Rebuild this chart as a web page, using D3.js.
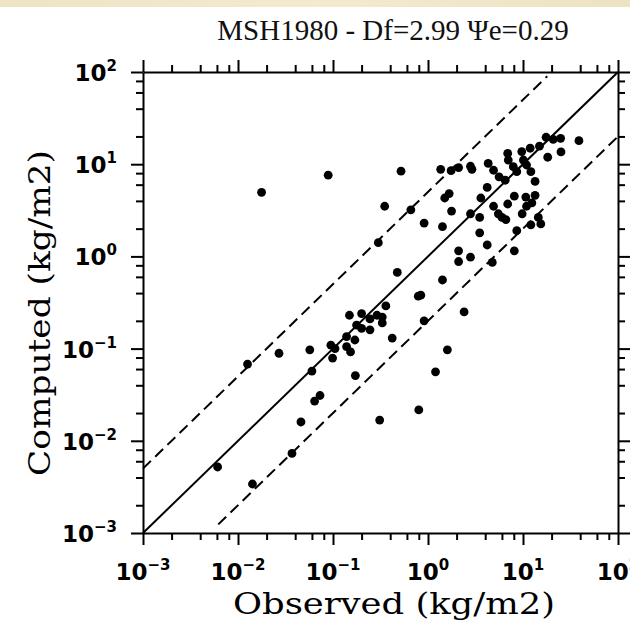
<!DOCTYPE html>
<html>
<head>
<meta charset="utf-8">
<script src="https://cdn.jsdelivr.net/npm/d3@7"></script>
<style>
  body { margin: 0; background: #fff; }
  svg { display: block; }
</style>
</head>
<body>
<div id="chart"></div>
<script>
// observed / computed loads (kg/m2)
const observed = [
  0.0177, 0.089, 0.35, 0.30, 0.36, 0.52, 0.66, 0.91, 1.42, 1.36,
  1.75, 2.1, 1.5, 1.67, 1.77, 2.8, 2.9, 4.3, 4.9, 5.6,
  6.5, 6.9, 7.0, 7.9, 8.6, 9.7, 10.1, 10.9, 11.9, 12.1,
  13.4, 14.9, 17.5, 18.2, 20.8, 24.9, 25.1, 38.8, 4.2, 3.6,
  4.9, 2.8, 3.5, 5.5, 6.0, 6.6, 6.9, 8.1, 9.8, 10.7,
  10.9, 12.4, 13.4, 14.5, 15.4, 12.1, 8.6, 3.5, 4.2, 2.1,
  2.1, 2.8, 4.75, 8.1, 1.42, 0.475, 0.79, 0.84, 2.4, 0.33,
  0.33, 0.91, 0.42, 1.6, 1.2, 0.80, 0.31, 0.149, 0.20, 0.245,
  0.29, 0.177, 0.20, 0.245, 0.139, 0.17, 0.095, 0.105, 0.099, 0.139,
  0.153, 0.057, 0.027, 0.0126, 0.060, 0.172, 0.073, 0.064, 0.046, 0.037,
  0.0061, 0.0142
];
const computed = [
  4.95, 7.6, 3.5, 1.41, 0.29, 8.4, 3.2, 2.3, 2.1, 8.8,
  8.5, 9.2, 4.3, 4.8, 3.1, 9.5, 8.8, 10.2, 8.6, 7.3,
  6.7, 13.1, 11.1, 9.4, 8.3, 13.7, 11.1, 9.8, 14.9, 8.3,
  6.5, 15.7, 19.6, 11.9, 18.6, 19.1, 13.6, 18.0, 5.6, 4.3,
  3.5, 2.9, 2.65, 2.9, 2.65, 2.5, 3.7, 4.5, 2.9, 4.4,
  3.5, 3.8, 4.6, 2.65, 2.25, 2.2, 1.9, 1.8, 1.33, 1.15,
  0.88, 0.98, 0.86, 1.15, 0.555, 0.67, 0.37, 0.38, 0.25, 0.22,
  0.19, 0.20, 0.13, 0.097, 0.056, 0.0216, 0.0168, 0.23, 0.24, 0.21,
  0.23, 0.18, 0.166, 0.16, 0.135, 0.124, 0.109, 0.10, 0.079, 0.105,
  0.092, 0.097, 0.089, 0.068, 0.057, 0.051, 0.031, 0.027, 0.016, 0.0073,
  0.0052, 0.0034
];

// reference lines: 1:1 and factor-of-5 bands
const lineOneToOne = [[1e-3, 1e-3], [100, 100]];
const lineUpper = [[1e-3, 5e-3], [18, 90]];
const lineLower = [[0.0062, 0.00124], [100, 20]];

const decades = [1e-3, 1e-2, 1e-1, 1e0, 1e1, 1e2];
const decadeExp = ["−3", "−2", "−1", "0", "1", "2"];
const minorMult = [2, 4, 6, 8];

const titleText = "MSH1980 - Df=2.99 Ψe=0.29";
const xTitle = "Observed (kg/m2)";
const yTitle = "Computed (kg/m2)";

const W = 630, H = 623;
const plot = { left: 143, right: 618, top: 72, bottom: 533 };

const svg = d3.select('#chart').append('svg')
  .attr('width', W)
  .attr('height', H);

// beige strip along the top edge
const grad = svg.append('defs').append('linearGradient')
  .attr('id', 'band').attr('x1', 0).attr('x2', 1);
grad.append('stop').attr('offset', '0%').attr('stop-color', '#efe3c4');
grad.append('stop').attr('offset', '50%').attr('stop-color', '#f4ead0');
grad.append('stop').attr('offset', '100%').attr('stop-color', '#eee2c2');
svg.append('rect').attr('x', 0).attr('y', 0).attr('width', W).attr('height', 7)
  .attr('fill', 'url(#band)');

const x = d3.scaleLog().domain([1e-3, 1e2]).range([plot.left, plot.right]);
const y = d3.scaleLog().domain([1e-3, 1e2]).range([plot.bottom, plot.top]);

const allTicks = [];
decades.forEach((d, i) => {
  allTicks.push(d);
  if (i < decades.length - 1) minorMult.forEach(m => allTicks.push(d * m));
});
const isMajor = v => decades.some(d => Math.abs(d - v) / d < 1e-9);

function styleAxis(g, dir) {
  g.select('.domain').attr('stroke', '#000').attr('stroke-width', 2);
  g.selectAll('.tick line')
    .attr('stroke', '#000')
    .attr('stroke-width', 2)
    .each(function (d) {
      const len = isMajor(d) ? 12 : 7;
      const el = d3.select(this);
      if (dir === 'bottom') el.attr('y2', len);
      if (dir === 'top') el.attr('y2', -len);
      if (dir === 'left') el.attr('x2', -len);
      if (dir === 'right') el.attr('x2', len);
    });
  g.selectAll('.tick text').remove();
}

svg.append('g').attr('transform', `translate(0,${plot.bottom})`)
  .call(d3.axisBottom(x).tickValues(allTicks).tickSizeOuter(0))
  .call(g => styleAxis(g, 'bottom'));
svg.append('g').attr('transform', `translate(0,${plot.top})`)
  .call(d3.axisTop(x).tickValues(allTicks).tickSizeOuter(0))
  .call(g => styleAxis(g, 'top'));
svg.append('g').attr('transform', `translate(${plot.left},0)`)
  .call(d3.axisLeft(y).tickValues(allTicks).tickSizeOuter(0))
  .call(g => styleAxis(g, 'left'));
svg.append('g').attr('transform', `translate(${plot.right},0)`)
  .call(d3.axisRight(y).tickValues(allTicks).tickSizeOuter(0))
  .call(g => styleAxis(g, 'right'));

// tick labels 10^n
const tickFont = "'DejaVu Sans', sans-serif";
function powerLabel(sel) {
  sel.style('font-family', tickFont)
    .style('font-weight', 'bold')
    .style('font-size', '23px')
    .attr('fill', '#000');
  sel.append('tspan').text('10');
  sel.append('tspan')
    .attr('dy', -10)
    .style('font-size', '15px')
    .text((d, i) => decadeExp[i]);
}

svg.append('g').selectAll('text')
  .data(decades)
  .enter().append('text')
  .attr('x', d => x(d))
  .attr('y', 580)
  .attr('text-anchor', 'middle')
  .call(powerLabel);

svg.append('g').selectAll('text')
  .data(decades)
  .enter().append('text')
  .attr('x', 117)
  .attr('y', d => y(d) + 9)
  .attr('text-anchor', 'end')
  .call(powerLabel);

// reference lines
const line = d3.line().x(d => x(d[0])).y(d => y(d[1]));
svg.append('path').attr('d', line(lineOneToOne))
  .attr('fill', 'none').attr('stroke', '#000').attr('stroke-width', 2);
[lineUpper, lineLower].forEach(l => {
  svg.append('path').attr('d', line(l))
    .attr('fill', 'none').attr('stroke', '#000').attr('stroke-width', 2)
    .attr('stroke-dasharray', '11,6');
});

// points
svg.append('g').selectAll('circle')
  .data(observed.map((o, i) => [o, computed[i]]))
  .enter().append('circle')
  .attr('cx', d => x(d[0]))
  .attr('cy', d => y(d[1]))
  .attr('r', 4.4)
  .attr('fill', '#000');

// titles
svg.append('text')
  .attr('x', 393).attr('y', 40)
  .attr('text-anchor', 'middle')
  .style('font-family', "'Liberation Serif', 'Times New Roman', serif")
  .style('font-size', '29px')
  .attr('fill', '#111')
  .text(titleText);

svg.append('text')
  .attr('x', 394).attr('y', 614)
  .attr('text-anchor', 'middle')
  .attr('textLength', 322)
  .attr('lengthAdjust', 'spacingAndGlyphs')
  .style('font-family', "'DejaVu Serif', serif")
  .style('font-size', '30px')
  .attr('fill', '#000')
  .text(xTitle);

svg.append('text')
  .attr('transform', 'translate(50,313) rotate(-90)')
  .attr('text-anchor', 'middle')
  .attr('textLength', 326)
  .attr('lengthAdjust', 'spacingAndGlyphs')
  .style('font-family', "'DejaVu Serif', serif")
  .style('font-size', '30px')
  .attr('fill', '#000')
  .text(yTitle);
</script>
</body>
</html>
